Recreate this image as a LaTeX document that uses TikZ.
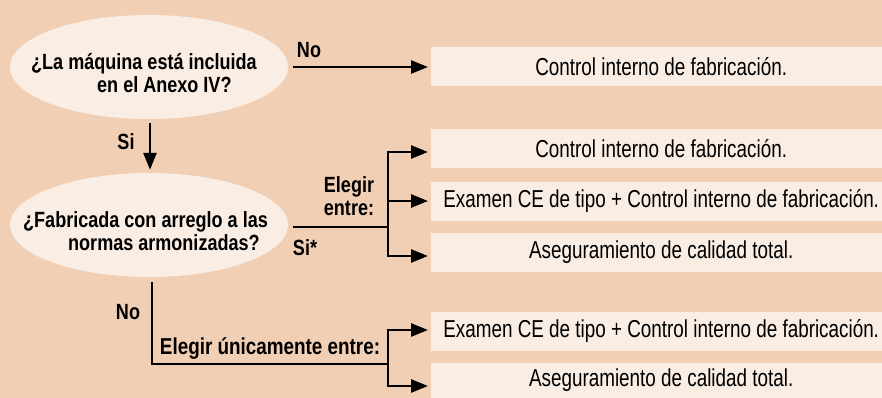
\documentclass[tikz,border=0pt]{standalone}
\usepackage{fontspec}
\setmainfont{Liberation Sans}[FakeStretch=0.77]
\newfontfamily\condb{Liberation Sans}[FakeStretch=0.82]
\usetikzlibrary{shapes.geometric,arrows.meta}
\definecolor{bgc}{RGB}{240,207,181}
\definecolor{fillc}{RGB}{249,237,228}
\begin{document}
\begin{tikzpicture}[x=1pt,y=-1pt,
  q/.style={ellipse, fill=fillc, minimum width=278pt, minimum height=104pt, inner sep=0pt},
  qt/.style={font=\condb\fontsize{22}{23.5}\selectfont\bfseries, align=left, inner sep=0pt, anchor=west},
  box/.style={fill=fillc, minimum width=451pt, minimum height=39pt, inner sep=0pt, anchor=west,
              font=\fontsize{24.5}{26}\selectfont, execute at begin node=\hspace*{9pt}},
  lbl/.style={font=\condb\fontsize{22}{23.5}\selectfont\bfseries, inner sep=0pt, align=left},
  ln/.style={line width=2.7pt},
  arr/.style={ln, -{Triangle[length=17pt,width=13pt]}},
]
\fill[bgc] (0,0) rectangle (882,398);
\useasboundingbox (0,0) rectangle (882,398);

% questions
\node[q] (q1) at (149,67) {};
\node[qt] (q1t) at (31,73) {¿La máquina está incluida\\\hspace*{66pt}en el Anexo IV?};
\node[q] (q2) at (149,225) {};
\node[qt] (q2t) at (23,231) {¿Fabricada con arreglo a las\\\hspace*{45pt}normas armonizadas?};

% boxes
\node[box] (b1) at (431,67) {Control interno de fabricación.};
\node[box] (b2) at (431,148.5) {Control interno de fabricación.};
\node[box] (b3) at (431,201.5) {Examen CE de tipo + Control interno de fabricación.};
\node[box] (b4) at (431,252.5) {Aseguramiento de calidad total.};
\node[box] (b5) at (431,331) {Examen CE de tipo + Control interno de fabricación.};
\node[box, minimum height=35pt] (b6) at (431,380.5) {Aseguramiento de calidad total.};

% labels
\node[lbl] (lno1) at (309,50) {No};
\node[lbl] (lsi1) at (126,142) {Si};
\node[lbl] (lel) at (349,196) {Elegir\\entre:};
\node[lbl] (lsi2) at (305,248) {Si*};
\node[lbl] (lno2) at (128,312) {No};
\node[lbl, font=\condb\fontsize{23}{24}\selectfont\bfseries] (lel2) at (270,348) {Elegir únicamente entre:};

% connectors
\draw[arr, shorten <=5pt, shorten >=3pt] (q1.east) -- (b1.west);
\draw[arr, shorten <=4pt, shorten >=3pt] ([xshift=1pt]q1.south) -- ([xshift=1pt]q2.north);

\coordinate (j1) at (388,227);
\coordinate (t2) at (388,152);
\coordinate (t3) at (388,201);
\coordinate (t4) at (388,256);
\draw[ln] ([shift={(5,2)}]q2.east) -- (j1);
\draw[ln] ([yshift=-1.35pt]t2) -- ([yshift=1.35pt]t4);
\draw[arr, shorten >=3pt] ([xshift=-1.35pt]t2) -- (t2 -| b2.west);
\draw[arr, shorten >=3pt] (t3) -- (t3 -| b3.west);
\draw[arr, shorten >=3pt] ([xshift=-1.35pt]t4) -- (t4 -| b4.west);

\coordinate (j2) at (388,364);
\coordinate (t5) at (388,330);
\coordinate (t6) at (388,386);
\draw[ln] ([shift={(3,5)}]q2.south) |- (j2);
\draw[ln] ([yshift=-1.35pt]t5) -- ([yshift=1.35pt]t6);
\draw[arr, shorten >=3pt] ([xshift=-1.35pt]t5) -- (t5 -| b5.west);
\draw[arr, shorten >=3pt] ([xshift=-1.35pt]t6) -- (t6 -| b6.west);
\end{tikzpicture}
\end{document}
